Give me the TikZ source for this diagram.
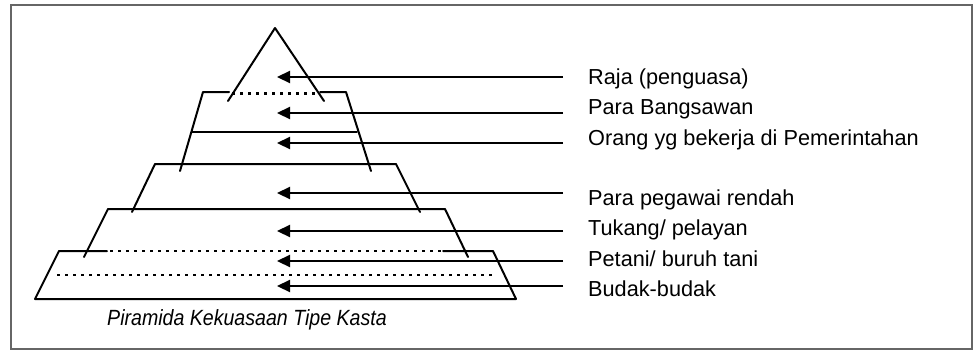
\documentclass[tikz,border=0pt]{standalone}
\usepackage{fontspec}
\setmainfont{Liberation Sans}
\usetikzlibrary{arrows.meta}
\begin{document}
\begin{tikzpicture}[x=1pt,y=-1pt,
  frame/.style={draw=black!60,line width=2.8pt},
  pyr/.style={draw=black,line width=2pt,line cap=round,line join=round},
  dots/.style={draw=black,line width=2.6pt,dash pattern=on 2.6pt off 5.4pt},
  arr/.style={draw=black,line width=2.2pt,-{Triangle[length=13pt,width=12pt]}},
  lab/.style={anchor=base west,inner sep=0pt,font=\fontsize{21.7}{24}\selectfont}]
\useasboundingbox (0,0) rectangle (979,351);
\draw[frame] (11,5) rectangle (972,349);
% apex triangle
\draw[pyr] (228,101) -- (275,28) -- (324,101);
% layer 2
\draw[pyr] (229,92) -- (203,92) -- (180,171);
\draw[pyr] (320,92) -- (346,92) -- (371,171);
\draw[dots] (232,93.5) -- (320,93.5);
\draw[pyr] (192,131.5) -- (357,131.5);
% layer 3
\draw[pyr] (132,212) -- (155,164) -- (396,164) -- (420,212);
% layer 4
\draw[pyr] (84,257) -- (108,209) -- (445,209) -- (468,257);
% layer 5
\draw[pyr] (107,251) -- (59,251) -- (35,299) -- (516,299) -- (493,251) -- (443,251);
\draw[dots] (110,251) -- (443,251);
\draw[dots] (57,275) -- (493,275);
% labels
\node[lab] (l1) at (588,84) {Raja (penguasa)};
\node[lab] (l2) at (588,114.5) {Para Bangsawan};
\node[lab] (l3) at (588,145) {Orang yg bekerja di Pemerintahan};
\node[lab] (l4) at (588,205) {Para pegawai rendah};
\node[lab] (l5) at (588,235.5) {Tukang/ pelayan};
\node[lab] (l6) at (588,266) {Petani/ buruh tani};
\node[lab] (l7) at (588,296.5) {Budak-budak};
% arrow coordinates
\foreach \i/\y in {1/77,2/113,3/143,4/193,5/231,6/261,7/286}{
  \coordinate (s\i) at (563,\y);
  \coordinate (t\i) at (277,\y);
  \draw[arr] (s\i) -- (t\i);
}
\node[anchor=base west,inner sep=0pt] (cap) at (107,325.5)
  {\scalebox{0.89}[1]{\fontsize{22}{24}\selectfont\itshape Piramida Kekuasaan Tipe Kasta}};
\end{tikzpicture}
\end{document}
